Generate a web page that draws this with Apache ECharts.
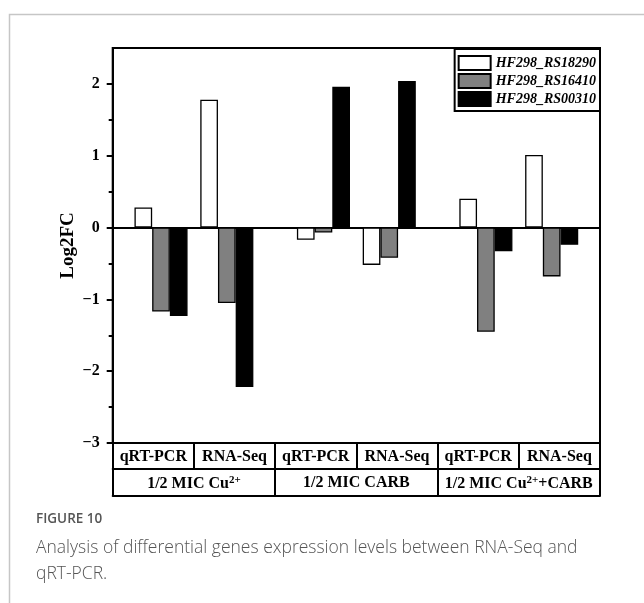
<!DOCTYPE html>
<html><head><meta charset="utf-8">
<script src="https://cdn.jsdelivr.net/npm/echarts@6/dist/echarts.min.js"></script>
<style>html,body{margin:0;padding:0;background:#fff}#c{width:644px;height:603px}</style>
</head><body><div id="c"></div>
<script>
// ---- data ----
const conditions = ['1/2 MIC Cu{sup|2+}', '1/2 MIC CARB', '1/2 MIC Cu{sup|2+}+CARB'];
const methods = ['qRT-PCR', 'RNA-Seq'];
const genes = ['HF298_RS18290', 'HF298_RS16410', 'HF298_RS00310'];
// values ordered: [Cu qRT, Cu RNA, CARB qRT, CARB RNA, Cu+CARB qRT, Cu+CARB RNA]
const rs18290 = [0.28, 1.78, -0.17, -0.52, 0.40, 1.01];
const rs16410 = [-1.17, -1.05, -0.07, -0.42, -1.45, -0.68];
const rs00310 = [-1.23, -2.22, 1.96, 2.04, -0.33, -0.24];
const yTicks = [-3, -2, -1, 0, 1, 2];
const yMinorTicks = [-2.5, -1.5, -0.5, 0.5, 1.5];

// ---- chart ----
const SERIF = '"Liberation Serif","Times New Roman",serif';
const SANS = '"Open Sans","Noto Sans",sans-serif';
const geneValues = [rs18290, rs16410, rs00310];
const colors = ['#ffffff', '#808080', '#000000'];
const series = [];
methods.forEach((m, mi) => {
  if (mi > 0) {
    series.push({type: 'bar', name: '_gap', xAxisIndex: 0, yAxisIndex: 0, barWidth: 12.7, barGap: 0,
      data: conditions.map(() => null), silent: true});
  }
  genes.forEach((g, gi) => {
    series.push({
      type: 'bar', name: g, xAxisIndex: 0, yAxisIndex: 0, barWidth: 17.7, barGap: 0,
      data: conditions.map((c, ci) => geneValues[gi][ci * methods.length + mi]),
      itemStyle: {color: colors[gi], borderColor: '#000', borderWidth: 1.3}
    });
  });
});
const tableMethods = conditions.flatMap(() => methods);
const tableLabel = {interval: 0, margin: 6, fontFamily: SERIF, fontWeight: 'bold', fontSize: 16, color: '#000'};

const chart = echarts.init(document.getElementById('c'), null, {renderer: 'canvas'});
chart.setOption({
  animation: false,
  backgroundColor: '#fff',
  grid: {left: 112.7, right: 44, top: 48, bottom: 160, show: true, borderColor: '#000', borderWidth: 2, backgroundColor: 'transparent'},
  legend: {
    data: genes, orient: 'vertical', right: 44, top: 49, icon: 'rect',
    itemWidth: 32, itemHeight: 14, itemGap: 2,
    padding: [6, 4, 4, 3], backgroundColor: '#fff', borderColor: '#000', borderWidth: 2,
    textStyle: {fontFamily: SERIF, fontWeight: 'bold', fontStyle: 'italic', fontSize: 14, color: '#000', lineHeight: 14}
  },
  xAxis: [
    {type: 'category', data: conditions, position: 'bottom',
      axisLine: {onZero: true, lineStyle: {color: '#000', width: 2}},
      axisTick: {show: false}, axisLabel: {show: false}, splitLine: {show: false}},
    {type: 'category', data: tableMethods, position: 'bottom', offset: 0,
      axisLine: {onZero: false, lineStyle: {color: '#000', width: 2}},
      axisTick: {show: true, interval: 0, inside: false, length: 26, lineStyle: {color: '#000', width: 2}},
      axisLabel: tableLabel},
    {type: 'category', data: conditions, position: 'bottom', offset: 26,
      axisLine: {onZero: false, lineStyle: {color: '#000', width: 2}},
      axisTick: {show: true, interval: 0, inside: false, length: 27, lineStyle: {color: '#000', width: 2}},
      axisLabel: Object.assign({}, tableLabel, {
        rich: {sup: {fontFamily: SERIF, fontWeight: 'bold', fontSize: 11, color: '#000', verticalAlign: 'top', padding: [0, 0, 7, 0]}}})},
    {type: 'category', data: ['-'], position: 'bottom', offset: 53,
      axisLine: {onZero: false, lineStyle: {color: '#000', width: 2}},
      axisTick: {show: false}, axisLabel: {show: false}}
  ],
  yAxis: [
    {type: 'value', min: -3, max: 2.5, interval: 1, position: 'left',
      name: 'Log2FC', nameLocation: 'middle', nameGap: 35, nameMoveOverlap: false,
      nameTextStyle: {fontFamily: SERIF, fontWeight: 'bold', fontSize: 19, color: '#000'},
      axisLine: {show: true, lineStyle: {color: '#000', width: 2}},
      axisTick: {show: true, length: 6, customValues: yTicks, lineStyle: {color: '#000', width: 2}},
      axisLabel: {customValues: yTicks, margin: 13, fontFamily: SERIF, fontWeight: 'bold', fontSize: 16, color: '#000',
        formatter: v => String(v).replace('-', '\u2212')},
      splitLine: {show: false}},
    {type: 'value', min: -3, max: 2.5, interval: 1, position: 'left',
      axisLine: {show: false},
      axisTick: {show: true, length: 4, customValues: yMinorTicks, lineStyle: {color: '#000', width: 2}},
      axisLabel: {show: false}, splitLine: {show: false}}
  ],
  series: series,
  graphic: [
    {type: 'polyline', shape: {points: [[9.5, 603], [9.5, 14.5], [644, 14.5]]}, style: {stroke: '#c6c6c6', lineWidth: 1.5, fill: null}, silent: true},
    {type: 'text', left: 36, top: 512, style: {text: 'FIGURE 10', fontFamily: SANS, fontWeight: 600, fontSize: 13.5, fill: '#555'}},
    {type: 'text', left: 36, top: 539, style: {text: 'Analysis of differential genes expression levels between RNA-Seq and', fontFamily: SANS, fontWeight: 300, fontSize: 17.5, fill: '#555'}},
    {type: 'text', left: 36, top: 565, style: {text: 'qRT-PCR.', fontFamily: SANS, fontWeight: 300, fontSize: 17.5, fill: '#555'}}
  ]
});
</script></body></html>
